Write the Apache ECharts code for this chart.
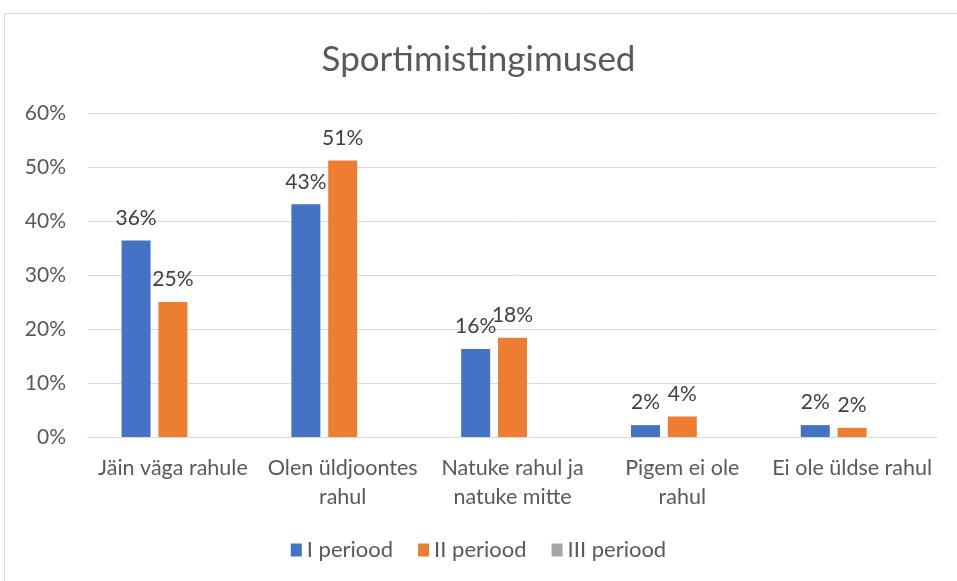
<!DOCTYPE html>
<html>
<head>
<meta charset="utf-8">
<script src="https://cdn.jsdelivr.net/npm/echarts@6/dist/echarts.min.js"></script>
<style>html,body{margin:0;padding:0;background:#fff;}#c{width:957px;height:581px;}</style>
</head>
<body>
<div id="c"></div>
<script>
const categories = ['Jäin väga rahule', 'Olen üldjoontes\nrahul', 'Natuke rahul ja\nnatuke mitte', 'Pigem ei ole\nrahul', 'Ei ole üldse rahul'];
const seriesNames = ['I periood', 'II periood', 'III periood'];
const period1 = [36.4, 43.1, 16.3, 2.2, 2.2];
const period2 = [25.0, 51.2, 18.4, 3.8, 1.7];
const period3 = [null, null, null, null, null];
const yTicks = [0, 10, 20, 30, 40, 50, 60];

const FONT = 'Lato';
const TXT = '#595959';
const colors = ['#4472C4', '#ED7D31', '#A5A5A5'];
const chart = echarts.init(document.getElementById('c'), null, {renderer: 'canvas'});
const lbl = {show: true, position: 'top', distance: 12, color: '#404040', fontFamily: FONT, fontSize: 21,
  formatter: p => Math.round(p.value) + '%'};
chart.setOption({
  animation: false,
  graphic: [{type: 'rect', shape: {x: 4.5, y: 13.5, width: 1000, height: 1000},
    style: {fill: 'none', stroke: '#d9d9d9', lineWidth: 1}, silent: true}],
  title: {text: 'Sportimistingimused', left: 'center', top: 37,
    textStyle: {fontFamily: FONT, fontSize: 35, fontWeight: 'normal', color: TXT}},
  legend: {bottom: 15, left: 'center', itemWidth: 11, itemHeight: 13, itemGap: 25,
    textStyle: {fontFamily: FONT, fontSize: 22, color: TXT},
    data: seriesNames.map(n => ({name: n, icon: 'rect'}))},
  grid: {left: 88, right: 20, top: 113, bottom: 144},
  xAxis: {type: 'category', data: categories,
    axisLine: {lineStyle: {color: '#d9d9d9'}}, axisTick: {show: false},
    axisLabel: {interval: 0, color: TXT, fontFamily: FONT, fontSize: 21.5, margin: 17, lineHeight: 29}},
  yAxis: {type: 'value', min: yTicks[0], max: yTicks[yTicks.length - 1], interval: 10,
    axisLabel: {color: TXT, fontFamily: FONT, fontSize: 21, margin: 22, formatter: v => v + '%'},
    splitLine: {lineStyle: {color: '#d9d9d9'}}, axisLine: {show: false}, axisTick: {show: false}},
  color: colors,
  series: [
    {name: seriesNames[0], type: 'bar', data: period1, barWidth: 29, barGap: '27%', label: lbl},
    {name: seriesNames[1], type: 'bar', data: period2, barWidth: 29, barGap: '27%', label: lbl},
    {name: seriesNames[2], type: 'bar', data: period3, barWidth: 29, barGap: '27%', label: lbl}
  ]
});
</script>
</body>
</html>
